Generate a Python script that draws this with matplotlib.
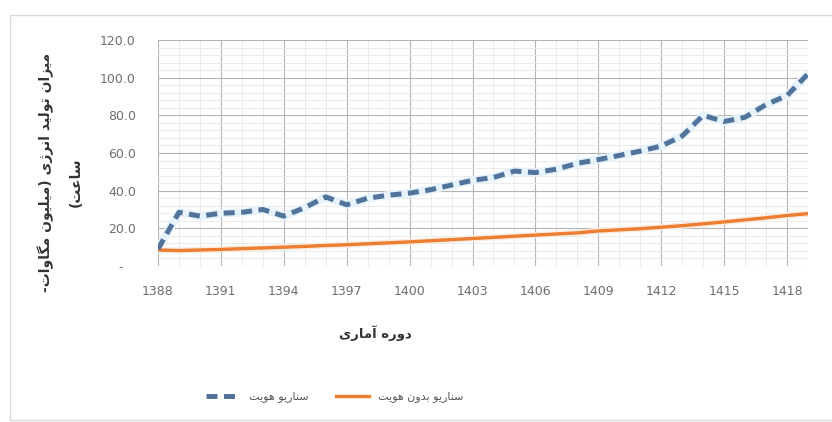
import numpy as np
import matplotlib
matplotlib.use("Agg")
import matplotlib.pyplot as plt
from matplotlib.lines import Line2D
from matplotlib.ticker import MultipleLocator, FuncFormatter

# data
years = list(range(1388, 1420))
with_identity = [9.0, 28.5, 26.5, 28.0, 28.5, 30.0, 26.5, 31.0, 36.7, 32.5, 36.0, 37.6,
                 38.7, 40.5, 43.0, 45.5, 47.0, 50.4, 49.6, 51.4, 54.5, 56.5, 58.7, 61.0,
                 63.7, 69.0, 80.0, 76.7, 79.0, 85.7, 90.5, 102.0]
no_identity = [8.5, 8.2, 8.5, 8.8, 9.2, 9.6, 10.0, 10.4, 10.9, 11.3, 11.8, 12.3,
               12.8, 13.4, 14.0, 14.6, 15.2, 15.8, 16.4, 17.0, 17.6, 18.6, 19.2, 19.8,
               20.6, 21.4, 22.4, 23.4, 24.5, 25.6, 26.8, 27.8]
tick_years = years[::3]

label_with = "سناریو هویت"
label_without = "سناریو بدون هویت"
xlabel = "دوره آماری"
ylabel_1 = "میزان تولید انرژی (میلیون مگاوات-"
ylabel_2 = "ساعت)"

# tiny persian shaper: (isolated, final, initial, medial); None = no forward join
FORMS = {
    "ا": ("\uFE8D", "\uFE8E", None, None),
    "آ": ("\uFE81", "\uFE82", None, None),
    "ب": ("\uFE8F", "\uFE90", "\uFE91", "\uFE92"),
    "ت": ("\uFE95", "\uFE96", "\uFE97", "\uFE98"),
    "د": ("\uFEA9", "\uFEAA", None, None),
    "ر": ("\uFEAD", "\uFEAE", None, None),
    "ز": ("\uFEAF", "\uFEB0", None, None),
    "ژ": ("\uFB8A", "\uFB8B", None, None),
    "س": ("\uFEB1", "\uFEB2", "\uFEB3", "\uFEB4"),
    "ع": ("\uFEC9", "\uFECA", "\uFECB", "\uFECC"),
    "گ": ("\uFB92", "\uFB93", "\uFB94", "\uFB95"),
    "ل": ("\uFEDD", "\uFEDE", "\uFEDF", "\uFEE0"),
    "م": ("\uFEE1", "\uFEE2", "\uFEE3", "\uFEE4"),
    "ن": ("\uFEE5", "\uFEE6", "\uFEE7", "\uFEE8"),
    "ه": ("\uFEE9", "\uFEEA", "\uFEEB", "\uFEEC"),
    "و": ("\uFEED", "\uFEEE", None, None),
    "ی": ("\uFBFC", "\uFBFD", "\uFBFE", "\uFBFF"),
}


def fa(text):
    out = []
    for i, ch in enumerate(text):
        if ch not in FORMS:
            out.append(ch)
            continue
        prev = text[i - 1] if i > 0 else ""
        nxt = text[i + 1] if i + 1 < len(text) else ""
        join_prev = prev in FORMS and FORMS[prev][2] is not None
        join_next = FORMS[ch][2] is not None and nxt in FORMS
        iso, fin, ini, med = FORMS[ch]
        if join_prev and join_next:
            out.append(med)
        elif join_prev:
            out.append(fin)
        elif join_next:
            out.append(ini)
        else:
            out.append(iso)
    swap = {"(": ")", ")": "("}
    return "".join(swap.get(c, c) for c in reversed(out))


plt.rcParams["font.family"] = ["DejaVu Sans"]

fig = plt.figure(figsize=(8.32, 4.22), dpi=100)
fig.patches.append(plt.Rectangle((10 / 832, 0.005), 0.99, 1 - 15 / 422 - 0.005,
                                 transform=fig.transFigure, fill=False,
                                 edgecolor="#d9d9d9", linewidth=1.0))
ax = fig.add_axes([158 / 832, 1 - 266 / 422, (808 - 158) / 832, (266 - 40) / 422])

ax.plot(years, with_identity, color="#e6f3fc", linewidth=6, solid_capstyle="round", zorder=3)
ax.plot(years, with_identity, color="#52749b", linewidth=3.6, dashes=(2.2, 1.3),
        dash_capstyle="butt", zorder=4)
ax.plot(years, no_identity, color="#fcebe0", linewidth=4.5, zorder=2)
ax.plot(years, no_identity, color="#ed7d31", linewidth=2.4, zorder=3)

ax.set_xlim(1388, 1419)
ax.set_ylim(0, 120)
ax.set_xticks(tick_years)
ax.xaxis.set_minor_locator(MultipleLocator(1))
ax.yaxis.set_major_locator(MultipleLocator(20))
ax.yaxis.set_minor_locator(MultipleLocator(4))
ax.yaxis.set_major_formatter(FuncFormatter(lambda v, p: "-   " if v == 0 else f"{v:.1f}"))
ax.xaxis.set_major_formatter(FuncFormatter(lambda v, p: f"{int(v)}"))

ax.grid(which="major", color="#b4b4b4", linewidth=0.8)
ax.grid(which="minor", color="#e8e8e8", linewidth=0.6)
ax.set_axisbelow(True)
for s in ax.spines.values():
    s.set_visible(False)
ax.tick_params(which="both", length=0)
ax.tick_params(axis="y", pad=16, labelsize=9, labelcolor="#6e6e6e")
ax.tick_params(axis="x", pad=14, labelsize=9, labelcolor="#6e6e6e")
for lab in ax.get_xticklabels() + ax.get_yticklabels():
    lab.set_family(["Liberation Sans Narrow", "DejaVu Sans"])

fig.text(375 / 832, 1 - 333 / 422, fa(xlabel), ha="center", va="center",
         fontsize=9.5, fontweight="bold", color="#333333")
fig.text(46 / 832, 1 - 172 / 422, fa(ylabel_1), rotation=90, ha="center", va="center",
         fontsize=10, fontweight="bold", color="#333333")
fig.text(76 / 832, 1 - 182 / 422, fa(ylabel_2), rotation=90, ha="center", va="center",
         fontsize=10, fontweight="bold", color="#333333")

handles = [Line2D([], [], color="#52749b", linewidth=3.6, dashes=(2.2, 1.3)),
           Line2D([], [], color="#ed7d31", linewidth=2.4)]
fig.legend(handles, [fa(label_with), fa(label_without)], loc="center",
           bbox_to_anchor=(335 / 832, 1 - 397 / 422), ncol=2, frameon=False,
           fontsize=8, handlelength=3, columnspacing=2.5, labelcolor="#555555")

fig.savefig("out.png", dpi=100, facecolor="white")
